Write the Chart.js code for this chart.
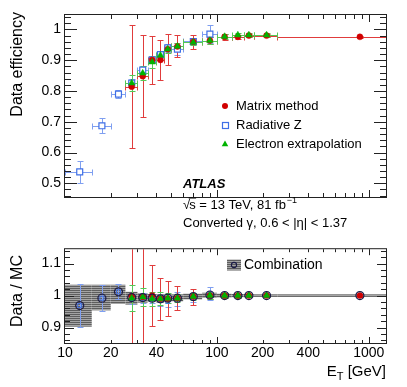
<!DOCTYPE html>
<html>
<head>
<meta charset="utf-8">
<script src="https://cdn.jsdelivr.net/npm/chart.js@4.4.1/dist/chart.umd.min.js"></script>
<style>
  html, body { margin: 0; padding: 0; background: #fff; }
  #wrap { position: relative; width: 407px; height: 387px; overflow: hidden; }
  canvas { position: absolute; left: 0; }
  #top { top: 0; }
  #bot { top: 244px; }
</style>
</head>
<body>
<div id="wrap">
  <canvas id="top" width="407" height="244"></canvas>
  <canvas id="bot" width="407" height="143"></canvas>
</div>
<script>
const FONT = '"Liberation Sans", Arial, Helvetica, sans-serif';

// E_T bins [GeV]
const etLow    = [10, 15, 20, 25, 30, 35, 40, 45, 50, 60, 80, 100, 125, 150, 175, 250];
const etHigh   = [15, 20, 25, 30, 35, 40, 45, 50, 60, 80, 100, 125, 150, 175, 250, 1500];
const etCenter = [12.5, 17.5, 22.5, 27.5, 32.5, 37.5, 42.5, 47.5, 55, 70, 90, 112.5, 137.5, 162.5, 212.5, 875];

// upper panel: data efficiency per method
const matrixEff = [null, null, null, 0.814, 0.848, 0.901, 0.901, 0.936, 0.945, 0.960, 0.964, 0.976, 0.976, 0.980, 0.980, 0.976];
const matrixErr = [null, null, null, 0.200, 0.133, 0.078, 0.064, 0.050, 0.036, 0.023, 0.012, 0.009, 0.006, 0.005, 0.005, 0.004];
const radZEff   = [0.537, 0.687, 0.790, 0.826, 0.868, 0.901, 0.918, 0.940, 0.936, 0.961, 0.985];
const radZErr   = [0.035, 0.025, 0.013, 0.013, 0.012, 0.010, 0.012, 0.012, 0.020, 0.012, 0.028];
const elExEff   = [null, null, null, 0.826, 0.858, 0.894, 0.916, 0.936, 0.945, 0.958, 0.964, 0.977, 0.982, 0.982, 0.982];
const elExErr   = [null, null, null, 0.026, 0.022, 0.020, 0.015, 0.012, 0.010, 0.010, 0.010, 0.008, 0.006, 0.006, 0.006];

// lower panel: data / MC
const matrixRatio    = [null, null, null, 0.998, 0.996, 1.000, 0.990, 0.990, 0.992, 0.997, 1.000, 1.000, 1.000, 1.000, 1.000, 1.000];
const matrixRatioErr = [null, null, null, 0.250, 0.160, 0.095, 0.065, 0.055, 0.037, 0.025, 0.012, 0.008, 0.006, 0.005, 0.005, 0.004];
const radZRatio      = [0.969, 0.992, 1.012, 0.990, 0.992, 0.990, 0.985, 0.982, 0.990, 0.992, 1.006];
const radZRatioErr   = [0.066, 0.040, 0.024, 0.016, 0.015, 0.012, 0.018, 0.018, 0.022, 0.013, 0.021];
const elExRatio      = [null, null, null, 0.992, 0.996, 0.990, 0.990, 0.992, 0.992, 0.997, 1.000, 1.000, 1.000, 1.000, 1.000];
const elExRatioErr   = [null, null, null, 0.040, 0.029, 0.022, 0.020, 0.015, 0.012, 0.010, 0.010, 0.007, 0.006, 0.005, 0.005];
const combRatio      = [0.969, 0.992, 1.012, 0.994, 0.994, 0.992, 0.990, 0.992, 0.992, 0.997, 1.002, 1.000, 1.000, 1.000, 1.000, 1.000];
const combLow        = [0.903, 0.954, 0.974, 0.972, 0.978, 0.980, 0.978, 0.980, 0.982, 0.988, 0.993, 0.994, 0.995, 0.995, 0.996, 0.996];
const combHigh       = [1.034, 1.034, 1.034, 1.012, 1.008, 1.005, 1.004, 1.004, 1.004, 1.006, 1.009, 1.006, 1.005, 1.005, 1.004, 1.004];

// axes
const xTickLabels = [10, 20, 40, 100, 200, 400, 1000];
const effTicks = [0.5, 0.6, 0.7, 0.8, 0.9, 1];
const ratioTicks = [0.9, 1, 1.1];
const xMin = 10, xMax = 1300;
const effMin = 0.4555, effMax = 1.047;
const ratioMin = 0.852, ratioMax = 1.145;

const RED = '#d10000', RED_ERR = '#e03c3c';
const BLUE = '#3f6fe6', BLUE_ERR = '#7f9ff0';
const GREEN = '#00b300', GREEN_ERR = '#55c855';
const COMB = '#1b1b46';
const AXIS = '#222';

const pts = ys => ys.map((v, i) => v == null ? null : { x: etCenter[i], y: v }).filter(Boolean);
const fmtNum = v => String(Math.round(v * 100) / 100);

function hatchPattern(ctx) {
    const c = document.createElement('canvas');
    c.width = 4; c.height = 2;
    const g = c.getContext('2d');
    g.fillStyle = '#a4a4a4'; g.fillRect(0, 0, 4, 2);
    g.fillStyle = '#5e5e5e'; g.fillRect(0, 0, 4, 1);
    return ctx.createPattern(c, 'repeat');
}

function clipArea(ctx, a) {
    ctx.beginPath();
    ctx.rect(a.left, a.top, a.right - a.left, a.bottom - a.top);
    ctx.clip();
}

function drawErrors(chart, ys, errs, color, cap, withX) {
    const { ctx, chartArea: a, scales: { x, y } } = chart;
    ctx.save();
    clipArea(ctx, a);
    ctx.strokeStyle = color;
    ctx.lineWidth = 1;
    ctx.beginPath();
    ys.forEach((v, i) => {
        if (v == null) return;
        const px = Math.round(x.getPixelForValue(etCenter[i])) + 0.5;
        const py = Math.round(y.getPixelForValue(v)) + 0.5;
        const y0 = Math.round(y.getPixelForValue(v - errs[i])) + 0.5;
        const y1 = Math.round(y.getPixelForValue(v + errs[i])) + 0.5;
        if (withX) {
            const x0 = Math.round(x.getPixelForValue(etLow[i])) + 0.5;
            const x1 = Math.round(x.getPixelForValue(etHigh[i])) + 0.5;
            ctx.moveTo(x0, py); ctx.lineTo(x1, py);
            ctx.moveTo(x0, py - cap); ctx.lineTo(x0, py + cap);
            ctx.moveTo(x1, py - cap); ctx.lineTo(x1, py + cap);
        }
        ctx.moveTo(px, y0); ctx.lineTo(px, y1);
        ctx.moveTo(px - cap, y0); ctx.lineTo(px + cap, y0);
        ctx.moveTo(px - cap, y1); ctx.lineTo(px + cap, y1);
    });
    ctx.stroke();
    ctx.restore();
}

// ROOT style frame with inward ticks on all four sides
function drawFrame(chart, yMajorLen, yMinorLen, xMajorLen, xMinorLen) {
    const { ctx, chartArea: a, scales: { x, y } } = chart;
    ctx.save();
    ctx.strokeStyle = AXIS;
    ctx.lineWidth = 1;
    ctx.strokeRect(a.left - 0.5, a.top - 0.5, a.right - a.left + 1, a.bottom - a.top + 1);
    ctx.beginPath();
    const step = 0.02;
    for (let k = Math.ceil(y.min / step - 1e-6); k * step <= y.max + 1e-9; k++) {
        const v = k * step;
        const major = Math.abs(v * 10 - Math.round(v * 10)) < 1e-6;
        const len = major ? yMajorLen : yMinorLen;
        const py = Math.round(y.getPixelForValue(v)) + 0.5;
        ctx.moveTo(a.left, py); ctx.lineTo(a.left + len, py);
        ctx.moveTo(a.right, py); ctx.lineTo(a.right - len, py);
    }
    for (let d = 10; d <= 1000; d *= 10) {
        for (let k = 1; k <= 9; k++) {
            const v = k * d;
            if (v <= x.min || v > x.max) continue;
            const len = k === 1 ? xMajorLen : xMinorLen;
            const px = Math.round(x.getPixelForValue(v)) + 0.5;
            ctx.moveTo(px, a.bottom); ctx.lineTo(px, a.bottom - len);
            ctx.moveTo(px, a.top); ctx.lineTo(px, a.top + len);
        }
    }
    ctx.stroke();
    ctx.restore();
}

function yTitle(ctx, text, cx, cy, align) {
    ctx.save();
    ctx.translate(cx, cy);
    ctx.rotate(-Math.PI / 2);
    ctx.font = '16px ' + FONT;
    ctx.fillStyle = '#000';
    ctx.textAlign = align;
    ctx.textBaseline = 'middle';
    ctx.fillText(text, 0, 0);
    ctx.restore();
}

const topDecor = {
    id: 'topDecor',
    beforeDatasetsDraw(chart) {
        drawErrors(chart, radZEff, radZErr, BLUE_ERR, 3, true);
        drawErrors(chart, matrixEff, matrixErr, RED_ERR, 3, true);
        drawErrors(chart, elExEff, elExErr, GREEN_ERR, 3, true);
    },
    afterDraw(chart) {
        const ctx = chart.ctx;
        drawFrame(chart, 12, 6, 7, 4);
        yTitle(ctx, 'Data efficiency', 18, 12, 'right');

        ctx.save();
        ctx.fillStyle = '#000';
        ctx.textBaseline = 'alphabetic';
        ctx.textAlign = 'left';

        // legend
        ctx.fillStyle = RED;
        ctx.beginPath(); ctx.arc(225, 106, 3, 0, Math.PI * 2); ctx.fill();
        ctx.strokeStyle = BLUE; ctx.lineWidth = 1.2;
        ctx.strokeRect(222.5, 122.5, 6, 6);
        ctx.fillStyle = GREEN;
        ctx.beginPath(); ctx.moveTo(225, 140.5); ctx.lineTo(228.3, 146.3); ctx.lineTo(221.7, 146.3); ctx.closePath(); ctx.fill();

        ctx.fillStyle = '#000';
        ctx.font = '13px ' + FONT;
        ctx.fillText('Matrix method', 236, 110);
        ctx.fillText('Radiative Z', 236, 129);
        ctx.fillText('Electron extrapolation', 236, 148);

        // labels
        ctx.font = 'italic bold 13px ' + FONT;
        ctx.fillText('ATLAS', 183, 188);
        ctx.font = '13px ' + FONT;
        let cx = 183;
        const by = 208.5;
        ctx.fillText('\u221A', cx, by);
        cx += ctx.measureText('\u221A').width - 1;
        const sw = ctx.measureText('s').width;
        ctx.fillText('s', cx, by);
        ctx.fillRect(cx - 0.5, by - 11, sw + 1, 1);
        cx += sw;
        const mid = ' = 13 TeV, 81 fb';
        ctx.fillText(mid, cx, by);
        cx += ctx.measureText(mid).width;
        ctx.font = '9px ' + FONT;
        ctx.fillText('\u22121', cx + 1, by - 5.5);
        ctx.font = '13px ' + FONT;
        ctx.fillText('Converted \u03B3, 0.6 < |\u03B7| < 1.37', 183, 227);
        ctx.restore();
    }
};

const botDecor = {
    id: 'botDecor',
    beforeDatasetsDraw(chart) {
        const { ctx, chartArea: a, scales: { x, y } } = chart;
        ctx.save();
        clipArea(ctx, a);
        ctx.fillStyle = hatchPattern(ctx);
        combRatio.forEach((v, i) => {
            const x0 = x.getPixelForValue(etLow[i]);
            const x1 = x.getPixelForValue(etHigh[i]);
            const y0 = y.getPixelForValue(combHigh[i]);
            const y1 = y.getPixelForValue(combLow[i]);
            ctx.fillRect(x0, y0, x1 - x0, y1 - y0);
        });
        ctx.restore();
        drawErrors(chart, radZRatio, radZRatioErr, BLUE_ERR, 3, false);
        drawErrors(chart, matrixRatio, matrixRatioErr, RED_ERR, 3, false);
        drawErrors(chart, elExRatio, elExRatioErr, GREEN_ERR, 3, false);
    },
    afterDraw(chart) {
        const ctx = chart.ctx;
        drawFrame(chart, 9, 5, 6, 3);
        yTitle(ctx, 'Data / MC', 18, 47, 'center');

        ctx.save();
        // combination legend entry
        ctx.fillStyle = hatchPattern(ctx);
        ctx.fillRect(227, 15.5, 14, 11);
        ctx.strokeStyle = COMB; ctx.lineWidth = 1.1;
        ctx.beginPath(); ctx.arc(234, 21, 2.6, 0, Math.PI * 2); ctx.stroke();
        ctx.fillStyle = '#000';
        ctx.font = '14px ' + FONT;
        ctx.textAlign = 'left';
        ctx.textBaseline = 'alphabetic';
        ctx.fillText('Combination', 244, 25);

        // E_T [GeV]
        const by = 132;
        ctx.font = '15px ' + FONT;
        const wE = ctx.measureText('E').width;
        const rest = ' [GeV]';
        const wR = ctx.measureText(rest).width;
        ctx.font = '11px ' + FONT;
        const wT = ctx.measureText('T').width;
        let cx = 386 - wE - wT - wR;
        ctx.font = '15px ' + FONT;
        ctx.fillText('E', cx, by);
        cx += wE;
        ctx.font = '11px ' + FONT;
        ctx.fillText('T', cx, by + 4);
        cx += wT;
        ctx.font = '15px ' + FONT;
        ctx.fillText(rest, cx, by);
        ctx.restore();
    }
};

const baseOptions = (padTop, padBottom, yMin, yMax, yTicks, showX) => ({
    responsive: false,
    animation: false,
    devicePixelRatio: 1,
    events: [],
    layout: { padding: { left: 0, right: 21, top: padTop, bottom: padBottom } },
    plugins: { legend: { display: false }, tooltip: { enabled: false } },
    scales: {
        x: {
            type: 'logarithmic', min: xMin, max: xMax, display: showX,
            afterBuildTicks: s => { s.ticks = xTickLabels.map(v => ({ value: v })); },
            afterFit: s => { s.height = 44; s.paddingLeft = 0; s.paddingRight = 0; },
            grid: { display: false, drawTicks: false },
            border: { display: false },
            ticks: {
                autoSkip: false, maxRotation: 0, minRotation: 0, padding: 2, color: '#000',
                font: { family: FONT, size: 14 },
                callback: v => String(v)
            }
        },
        y: {
            type: 'linear', min: yMin, max: yMax, position: 'left',
            afterBuildTicks: s => { s.ticks = yTicks.map(v => ({ value: v })); },
            afterFit: s => { s.width = 65; s.paddingTop = 0; s.paddingBottom = 0; },
            grid: { display: false, drawTicks: false },
            border: { display: false },
            ticks: { color: '#000', padding: 4, font: { family: FONT, size: 14 }, callback: v => fmtNum(v) }
        }
    }
});

new Chart(document.getElementById('top'), {
    type: 'scatter',
    data: {
        datasets: [
            { label: 'Electron extrapolation', data: pts(elExEff), pointStyle: 'triangle', pointRadius: 3.8,
              backgroundColor: GREEN, borderColor: GREEN, borderWidth: 0.5, order: 1 },
            { label: 'Matrix method', data: pts(matrixEff), pointStyle: 'circle', pointRadius: 3,
              backgroundColor: RED, borderColor: RED, borderWidth: 0.5, order: 2 },
            { label: 'Radiative Z', data: pts(radZEff), pointStyle: 'rect', pointRadius: 4.2,
              backgroundColor: '#fff', borderColor: BLUE, borderWidth: 1.2, order: 3 }
        ]
    },
    options: baseOptions(15, 3, effMin, effMax, effTicks, false),
    plugins: [topDecor]
});

new Chart(document.getElementById('bot'), {
    type: 'scatter',
    data: {
        datasets: [
            { label: 'Combination', data: pts(combRatio), pointStyle: 'circle', pointRadius: 4,
              backgroundColor: 'rgba(0,0,0,0)', borderColor: COMB, borderWidth: 1.2, order: 1 },
            { label: 'Electron extrapolation', data: pts(elExRatio), pointStyle: 'triangle', pointRadius: 4,
              backgroundColor: GREEN, borderColor: GREEN, borderWidth: 0.5, order: 2 },
            { label: 'Matrix method', data: pts(matrixRatio), pointStyle: 'circle', pointRadius: 3,
              backgroundColor: RED, borderColor: RED, borderWidth: 0.5, order: 3 },
            { label: 'Radiative Z', data: pts(radZRatio), pointStyle: 'rect', pointRadius: 2.8,
              backgroundColor: 'rgba(0,0,0,0)', borderColor: BLUE, borderWidth: 1, order: 4 }
        ]
    },
    options: baseOptions(2, 0, ratioMin, ratioMax, ratioTicks, true),
    plugins: [botDecor]
});
</script>
</body>
</html>
